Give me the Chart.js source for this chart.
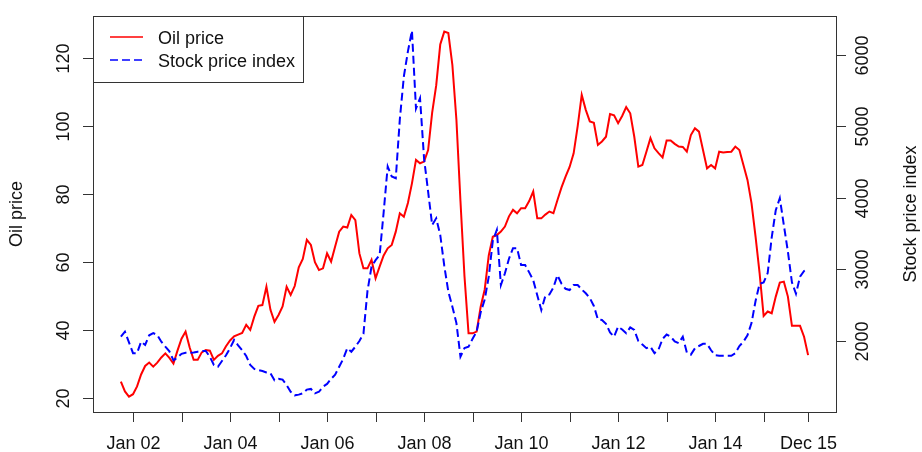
<!DOCTYPE html>
<html>
<head>
<meta charset="utf-8">
<script src="https://cdn.jsdelivr.net/npm/chart.js@4.4.1/dist/chart.umd.min.js"></script>
<style>
  html, body { margin: 0; padding: 0; background: #fff; }
  #wrap { width: 922px; height: 452px; }
</style>
</head>
<body>
<div id="wrap"><canvas id="chart" width="922" height="452"></canvas></div>
<script>
// Monthly data, Oct 2001 .. Dec 2015 (index 0 = Oct 2001)
const oilPrice = [
  24.9, 22, 20.5,
  21.2, 23.5, 27, 29.5, 30.5, 29.3, 30.5, 32, 33.2, 31.9, 30.2, 34,
  37.5, 39.6, 35, 31.3, 31.3, 33.5, 34.2, 34, 31.3, 32.5, 33.2, 35.3,
  37, 38.2, 38.7, 39.2, 41.6, 40.1, 44, 47.2, 47.4, 52.8, 46, 42.5,
  44.5, 47, 52.8, 50.4, 53, 58.5, 61, 66.6, 65.1, 60, 57.7, 58.2,
  62.6, 60.2, 64.6, 69, 70.5, 70.2, 73.9, 72.4, 62.6, 58.2, 58.2, 60.7,
  55.3, 58.7, 62, 64.1, 65.1, 69, 74.4, 73.4, 77.4, 83.2, 90.1, 89.1,
  89.6, 93, 104, 112, 124, 127.8, 127.4, 118, 101.9, 78, 55.8, 39.1,
  39.1, 39.6, 46.9, 52, 62, 67.5, 68, 69, 70.5, 73.5, 75.4, 74.4,
  75.9, 75.9, 78, 80.8, 72.9, 72.9, 74, 74.9, 74.4, 78.3, 82, 85.2,
  88, 92, 100, 109.2, 104.8, 101.4, 101, 94.5, 95.5, 96.9, 103.6, 103.2,
  100.9, 103, 105.6, 103.8, 96.9, 88.1, 88.6, 92.5, 96.5, 93.5, 92.1, 90.8,
  95.8, 95.8, 94.8, 94, 93.9, 92.5, 97.4, 99.4, 98.4, 93, 87.6, 88.6,
  87.6, 92.5, 92.3, 92.4, 92.5, 94, 93, 88.6, 84.2, 77.4, 67.5, 56.8,
  44.2, 45.5, 45, 49.9, 54, 54.3, 49.9, 41.3, 41.3, 41.3, 38.1, 32.7
];

const stockIndex = [
  2060, 2130, 1980,
  1830, 1830, 1990, 1944, 2080, 2110, 2084, 1990, 1920, 1855, 1730, 1770,
  1820, 1836, 1836, 1840, 1850, 1860, 1860, 1780, 1664, 1640, 1720, 1800,
  1900, 2014, 1940, 1870, 1790, 1664, 1610, 1594, 1580, 1560, 1548, 1450,
  1470, 1460, 1384, 1290, 1240, 1250, 1268, 1320, 1330, 1268, 1290, 1361,
  1400, 1470, 1530, 1640, 1750, 1898, 1850, 1920, 2000, 2100, 2700, 3040,
  3130, 3200, 3800, 4440, 4300, 4276, 5100, 5700, 6050, 6340, 5250, 5395,
  4550, 4089, 3623, 3716, 3483, 3050, 2690, 2480, 2250, 1780, 1900, 1920,
  2030, 2130, 2400, 2580, 2900, 3400, 3553, 2783, 2947, 3150, 3297, 3297,
  3063, 3063, 2960, 2850, 2640, 2434, 2630, 2650, 2750, 2920, 2800, 2730,
  2713, 2783, 2783, 2720, 2667, 2600, 2490, 2300, 2294, 2240, 2120, 2060,
  2200, 2160, 2107, 2190, 2154, 2000, 1950, 1900, 1920, 1830, 1880, 2030,
  2090, 2060, 1995, 1970, 2060, 1840, 1810, 1898, 1930, 1960, 1960, 1870,
  1800, 1794, 1794, 1794, 1794, 1830, 1930, 1990, 2080, 2250, 2560, 2800,
  2820, 2950, 3450, 3830, 3996, 3620, 3250, 2820, 2660, 2900, 2980, 3010
];

// x ticks (month index) and their labels; R drops every other label
const xTickMonths = [3, 15, 27, 39, 51, 63, 75, 87, 99, 111, 123, 135, 147, 159, 170];
const xTickLabels = ['Jan 02', 'Jan 03', 'Jan 04', 'Jan 05', 'Jan 06', 'Jan 07', 'Jan 08',
  'Jan 09', 'Jan 10', 'Jan 11', 'Jan 12', 'Jan 13', 'Jan 14', 'Jan 15', 'Dec 15'];
const oilTicks = [20, 40, 60, 80, 100, 120];
const stockTicks = [2000, 3000, 4000, 5000, 6000];

const FONT = '18px "Liberation Sans", Arial, sans-serif';

// Draws the R-style box, axes, titles and legend from the chart's scales
const rStyleAxes = {
  id: 'rStyleAxes',
  afterDraw(chart) {
    const { ctx, chartArea: a, scales } = chart;
    const x = scales.x, yL = scales.yL, yR = scales.yR;
    const tick = 10;
    ctx.save();
    ctx.strokeStyle = '#333';
    ctx.lineWidth = 1;
    ctx.strokeRect(Math.round(a.left) + 0.5, Math.round(a.top) + 0.5,
      Math.round(a.right - a.left), Math.round(a.bottom - a.top));

    ctx.fillStyle = '#111';
    ctx.font = FONT;
    ctx.textAlign = 'center';
    ctx.textBaseline = 'middle';

    // bottom axis
    xTickMonths.forEach((m, i) => {
      const px = Math.round(x.getPixelForValue(m)) + 0.5;
      ctx.beginPath();
      ctx.moveTo(px, a.bottom);
      ctx.lineTo(px, a.bottom + tick);
      ctx.stroke();
      if (i % 2 === 0) ctx.fillText(xTickLabels[i], px, 444);
    });

    // left axis
    oilTicks.forEach(v => {
      const py = Math.round(yL.getPixelForValue(v)) + 0.5;
      ctx.beginPath();
      ctx.moveTo(a.left, py);
      ctx.lineTo(a.left - tick, py);
      ctx.stroke();
      ctx.save();
      ctx.translate(64, py);
      ctx.rotate(-Math.PI / 2);
      ctx.fillText(String(v), 0, 0);
      ctx.restore();
    });

    // right axis
    stockTicks.forEach(v => {
      const py = Math.round(yR.getPixelForValue(v)) + 0.5;
      ctx.beginPath();
      ctx.moveTo(a.right, py);
      ctx.lineTo(a.right + tick, py);
      ctx.stroke();
      ctx.save();
      ctx.translate(863, py);
      ctx.rotate(-Math.PI / 2);
      ctx.fillText(String(v), 0, 0);
      ctx.restore();
    });

    // axis titles
    const midY = (a.top + a.bottom) / 2;
    ctx.save();
    ctx.translate(17, midY);
    ctx.rotate(-Math.PI / 2);
    ctx.fillText('Oil price', 0, 0);
    ctx.restore();
    ctx.save();
    ctx.translate(911, midY);
    ctx.rotate(-Math.PI / 2);
    ctx.fillText('Stock price index', 0, 0);
    ctx.restore();

    // legend
    const lx = Math.round(a.left) + 0.5, ly = Math.round(a.top) + 0.5;
    ctx.fillStyle = '#fff';
    ctx.fillRect(lx, ly, 210, 66);
    ctx.strokeRect(lx, ly, 210, 66);
    const rows = [37, 60];
    chart.data.datasets.forEach((ds, i) => {
      ctx.save();
      ctx.strokeStyle = ds.borderColor;
      ctx.lineWidth = 1.5;
      ctx.setLineDash(ds.borderDash || []);
      ctx.beginPath();
      ctx.moveTo(110, rows[i]);
      ctx.lineTo(143, rows[i]);
      ctx.stroke();
      ctx.restore();
      ctx.fillStyle = '#111';
      ctx.textAlign = 'left';
      ctx.fillText(ds.label, 158, rows[i] + 2);
    });
    ctx.restore();
  }
};

new Chart(document.getElementById('chart'), {
  type: 'line',
  data: {
    datasets: [
      {
        label: 'Oil price',
        data: oilPrice.map((v, i) => ({ x: i, y: v })),
        borderColor: '#ff0000',
        borderWidth: 2,
        pointRadius: 0,
        tension: 0,
        yAxisID: 'yL',
        order: 1
      },
      {
        label: 'Stock price index',
        data: stockIndex.map((v, i) => ({ x: i, y: v })),
        borderColor: '#0000ff',
        borderWidth: 2,
        borderDash: [8, 4],
        pointRadius: 0,
        tension: 0,
        yAxisID: 'yR',
        order: 0
      }
    ]
  },
  options: {
    responsive: false,
    animation: false,
    devicePixelRatio: 1,
    layout: { padding: { left: 93, right: 86, top: 16, bottom: 40 } },
    scales: {
      x: { type: 'linear', min: -6.9, max: 176.9, display: false },
      yL: { type: 'linear', position: 'left', min: 15.97, max: 132.4, display: false },
      yR: { type: 'linear', position: 'right', min: 1007, max: 6545, display: false }
    },
    plugins: {
      legend: { display: false },
      tooltip: { enabled: false }
    }
  },
  plugins: [rStyleAxes]
});
</script>
</body>
</html>
